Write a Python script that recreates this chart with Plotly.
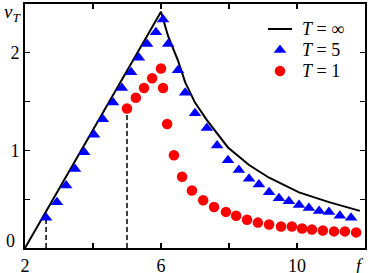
import plotly.graph_objects as go

# T = infinity curve
f_inf = [2.0, 6.0, 6.21, 6.5, 6.71, 7.0, 7.35, 7.65, 7.97, 8.59, 9.18, 10.06, 10.94, 11.85]
nu_inf = [0.0, 2.42, 2.17, 1.92, 1.70, 1.49, 1.31, 1.17, 1.03, 0.85, 0.72, 0.57, 0.47, 0.38]

# T = 5
f_t5 = [2.62, 2.94, 3.21, 3.47, 3.74, 4.03, 4.29, 4.59, 4.85, 5.12, 5.35, 5.59, 5.85, 6.06,
        6.21, 6.50, 6.71, 7.0, 7.35, 7.65, 7.97, 8.29, 8.59, 8.88, 9.18, 9.47, 9.76, 10.06,
        10.35, 10.65, 10.94, 11.26, 11.59]
nu_t5 = [0.31, 0.47, 0.64, 0.81, 0.98, 1.16, 1.32, 1.49, 1.64, 1.80, 1.95, 2.09, 2.21, 2.34,
         2.09, 1.82, 1.59, 1.38, 1.23, 1.05, 0.90, 0.80, 0.71, 0.65, 0.57, 0.51, 0.48, 0.44,
         0.41, 0.38, 0.37, 0.33, 0.31]

# T = 1
f_t1 = [5.0, 5.26, 5.5, 5.74, 6.0, 6.06, 6.18, 6.38, 6.62, 6.91, 7.24, 7.56, 7.91, 8.21,
        8.53, 8.85, 9.18, 9.53, 9.85, 10.15, 10.44, 10.76, 11.09, 11.41, 11.74]
nu_t1 = [1.43, 1.54, 1.64, 1.74, 1.84, 1.64, 1.27, 0.95, 0.73, 0.59, 0.49, 0.42, 0.37, 0.33,
         0.29, 0.26, 0.24, 0.22, 0.22, 0.20, 0.19, 0.18, 0.17, 0.17, 0.16]

x_ticks = [2, 4, 6, 8, 10]
x_ticktext = ["2", "", "6", "", "10"]
y_ticks = [0.5, 1, 1.5, 2]
y_ticktext = ["", "1", "", "2"]

legend_labels = ["<i>T</i> = ∞", "<i>T</i> = 5", "<i>T</i> = 1"]

FONT = "Liberation Serif, Times New Roman, serif"

fig = go.Figure()

# dashed guide lines down to the first point of each sampled series
for fx, fy in ((f_t5, nu_t5), (f_t1, nu_t1)):
    fig.add_trace(go.Scatter(x=[fx[0], fx[0]], y=[0, fy[0]], mode="lines",
                             line=dict(color="black", width=1.5, dash="5px,3px"),
                             showlegend=False, hoverinfo="skip"))

fig.add_trace(go.Scatter(x=f_inf, y=nu_inf, mode="lines", name=legend_labels[0],
                         line=dict(color="black", width=2), showlegend=False))
fig.add_trace(go.Scatter(x=f_t5, y=nu_t5, mode="markers", name=legend_labels[1],
                         marker=dict(symbol="triangle-up", size=11, color="blue"),
                         showlegend=False))
fig.add_trace(go.Scatter(x=f_t1, y=nu_t1, mode="markers", name=legend_labels[2],
                         marker=dict(symbol="circle", size=10.5, color="red"),
                         showlegend=False))

# legend samples on an invisible overlay axis (0..1 over the plot area)
leg_y = [0.8975, 0.8115, 0.7254]
fig.add_trace(go.Scatter(x=[0.7147, 0.7853], y=[leg_y[0], leg_y[0]], mode="lines",
                         line=dict(color="black", width=2), xaxis="x2", yaxis="y2",
                         showlegend=False, hoverinfo="skip"))
fig.add_trace(go.Scatter(x=[0.75], y=[leg_y[1]], mode="markers",
                         marker=dict(symbol="triangle-up", size=11, color="blue"),
                         xaxis="x2", yaxis="y2", showlegend=False, hoverinfo="skip"))
fig.add_trace(go.Scatter(x=[0.75], y=[leg_y[2]], mode="markers",
                         marker=dict(symbol="circle", size=10.5, color="red"),
                         xaxis="x2", yaxis="y2", showlegend=False, hoverinfo="skip"))
for lbl, ly in zip(legend_labels, leg_y):
    fig.add_annotation(xref="x2", yref="y2", x=0.8088, y=ly, text=lbl, showarrow=False,
                       xanchor="left", yanchor="middle",
                       font=dict(family=FONT, size=18, color="black"))

axis_common = dict(showline=True, linecolor="black", linewidth=2, mirror="allticks",
                   ticks="inside", ticklen=5, tickwidth=1.2, tickcolor="black",
                   showgrid=False, zeroline=False, automargin=False,
                   tickfont=dict(family=FONT, size=18, color="black"))

fig.update_layout(
    template="none",
    width=370, height=273,
    margin=dict(l=25, r=5, t=4, b=25),
    plot_bgcolor="white", paper_bgcolor="white",
    font=dict(family=FONT, size=18, color="black"),
    showlegend=False,
    xaxis=dict(range=[2, 12], tickvals=x_ticks, ticktext=x_ticktext, **axis_common),
    yaxis=dict(range=[0, 2.5], tickvals=y_ticks, ticktext=y_ticktext, **axis_common),
    xaxis2=dict(range=[0, 1], overlaying="x", visible=False, fixedrange=True),
    yaxis2=dict(range=[0, 1], overlaying="y", visible=False, fixedrange=True),
)

fig.add_annotation(xref="paper", yref="paper", x=-0.038, y=0.965, text="<i>ν<sub>T</sub></i>",
                   showarrow=False, font=dict(family=FONT, size=19, color="black"),
                   xanchor="center", yanchor="middle")
fig.add_annotation(xref="paper", yref="paper", x=-0.024, y=0.028, text="0",
                   showarrow=False, font=dict(family=FONT, size=18, color="black"),
                   xanchor="right", yanchor="middle")
fig.add_annotation(xref="paper", yref="paper", x=0.985, y=-0.075, text="<i>f</i>",
                   showarrow=False, font=dict(family=FONT, size=18, color="black"),
                   xanchor="center", yanchor="middle")

fig.write_html(
    "out.html",
    config={"displayModeBar": False, "staticPlot": True},
    post_script="document.body.style.margin='0';document.body.style.padding='0';"
                "document.body.style.overflow='hidden';",
)
